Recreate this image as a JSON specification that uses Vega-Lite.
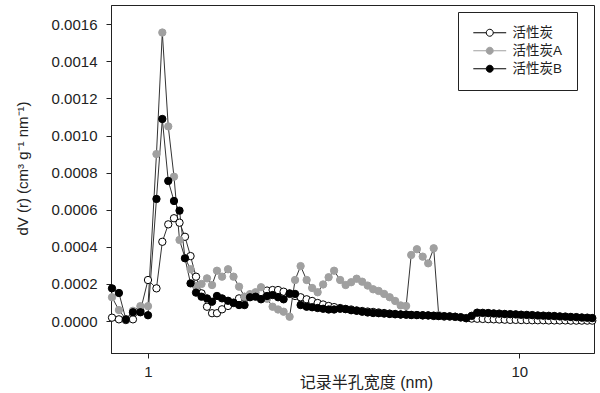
{
  "$schema": "https://vega.github.io/schema/vega-lite/v6.json",
  "width": 483,
  "height": 348,
  "autosize": {"type": "none"},
  "padding": {"left": 111, "top": 5, "right": 6, "bottom": 40},
  "background": "white",
  "config": {
    "font": "Liberation Sans, Noto Sans CJK SC",
    "view": {"stroke": "#222", "strokeWidth": 1},
    "axis": {"grid": false, "domainColor": "#222", "tickColor": "#222", "labelColor": "#222", "titleColor": "#222", "labelFontSize": 15, "titleFontWeight": "normal", "tickSize": 5, "labelFont": "Liberation Sans", "titleFont": "Liberation Sans, Noto Sans CJK SC"}
  },
  "data": {"values": [
    {"r": 0.800, "活性炭": 0.18e-4, "活性炭A": 1.28e-4, "活性炭B": 1.76e-4},
    {"r": 0.835, "活性炭": 0.09e-4, "活性炭A": 0.59e-4, "活性炭B": 1.51e-4},
    {"r": 0.872, "活性炭": 0.05e-4, "活性炭A": 0.10e-4, "活性炭B": 0.09e-4},
    {"r": 0.911, "活性炭": 0.09e-4, "活性炭A": 0.55e-4, "活性炭B": 0.47e-4},
    {"r": 0.954, "活性炭": 0.55e-4, "活性炭A": 0.80e-4, "活性炭B": 0.47e-4},
    {"r": 1.000, "活性炭": 2.21e-4, "活性炭A": 0.80e-4, "活性炭B": 0.31e-4},
    {"r": 1.054, "活性炭": 1.76e-4, "活性炭A": 9.00e-4, "活性炭B": 6.58e-4},
    {"r": 1.093, "活性炭": 4.27e-4, "活性炭A": 15.55e-4, "活性炭B": 10.89e-4},
    {"r": 1.134, "活性炭": 5.21e-4, "活性炭A": 10.49e-4, "活性炭B": 7.55e-4},
    {"r": 1.175, "活性炭": 5.54e-4, "活性炭A": 7.78e-4, "活性炭B": 6.47e-4},
    {"r": 1.216, "活性炭": 5.30e-4, "活性炭A": 4.37e-4, "活性炭B": 5.95e-4},
    {"r": 1.258, "活性炭": 4.54e-4, "活性炭A": 3.40e-4, "活性炭B": 3.38e-4},
    {"r": 1.302, "活性炭": 3.50e-4, "活性炭A": 2.79e-4, "活性炭B": 2.03e-4},
    {"r": 1.347, "活性炭": 2.39e-4, "活性炭A": 1.89e-4, "活性炭B": 1.53e-4},
    {"r": 1.394, "活性炭": 1.49e-4, "活性炭A": 2.00e-4, "活性炭B": 1.31e-4},
    {"r": 1.442, "活性炭": 0.77e-4, "活性炭A": 2.30e-4, "活性炭B": 1.22e-4},
    {"r": 1.488, "活性炭": 0.42e-4, "活性炭A": 1.94e-4, "活性炭B": 1.04e-4},
    {"r": 1.534, "活性炭": 0.42e-4, "活性炭A": 2.71e-4, "活性炭B": 1.35e-4},
    {"r": 1.583, "活性炭": 0.63e-4, "活性炭A": 2.39e-4, "活性炭B": 1.22e-4},
    {"r": 1.643, "活性炭": 0.81e-4, "活性炭A": 2.79e-4, "活性炭B": 1.09e-4},
    {"r": 1.700, "活性炭": 0.97e-4, "活性炭A": 2.39e-4, "活性炭B": 0.99e-4},
    {"r": 1.759, "活性炭": 1.22e-4, "活性炭A": 1.85e-4, "活性炭B": 0.86e-4},
    {"r": 1.820, "活性炭": 1.29e-4, "活性炭A": 1.31e-4, "活性炭B": 0.86e-4},
    {"r": 1.883, "活性炭": 1.35e-4, "活性炭A": 1.45e-4, "活性炭B": 1.28e-4},
    {"r": 1.949, "活性炭": 1.46e-4, "活性炭A": 1.55e-4, "活性炭B": 1.31e-4},
    {"r": 2.016, "活性炭": 1.56e-4, "活性炭A": 1.82e-4, "活性炭B": 1.17e-4},
    {"r": 2.093, "活性炭": 1.64e-4, "活性炭A": 1.20e-4, "活性炭B": 1.35e-4},
    {"r": 2.166, "活性炭": 1.67e-4, "活性炭A": 0.77e-4, "活性炭B": 1.40e-4},
    {"r": 2.241, "活性炭": 1.67e-4, "活性炭A": 0.62e-4, "活性炭B": 1.28e-4},
    {"r": 2.319, "活性炭": 1.58e-4, "活性炭A": 0.50e-4, "活性炭B": 1.17e-4},
    {"r": 2.407, "活性炭": 1.46e-4, "活性炭A": 0.23e-4, "活性炭B": 1.49e-4},
    {"r": 2.490, "活性炭": 1.35e-4, "活性炭A": 2.21e-4, "活性炭B": 1.46e-4},
    {"r": 2.577, "活性炭": 1.28e-4, "活性炭A": 2.96e-4, "活性炭B": 0.86e-4},
    {"r": 2.675, "活性炭": 1.17e-4, "活性炭A": 2.21e-4, "活性炭B": 0.77e-4},
    {"r": 2.768, "活性炭": 1.08e-4, "活性炭A": 1.78e-4, "活性炭B": 0.74e-4},
    {"r": 2.864, "活性炭": 0.97e-4, "活性炭A": 1.55e-4, "活性炭B": 0.70e-4},
    {"r": 2.963, "活性炭": 0.89e-4, "活性炭A": 1.97e-4, "活性炭B": 0.66e-4},
    {"r": 3.066, "活性炭": 0.81e-4, "活性炭A": 2.36e-4, "活性炭B": 0.62e-4},
    {"r": 3.172, "活性炭": 0.75e-4, "活性炭A": 2.71e-4, "活性炭B": 0.62e-4},
    {"r": 3.293, "活性炭": 0.70e-4, "活性炭A": 2.21e-4, "活性炭B": 0.66e-4},
    {"r": 3.407, "活性炭": 0.65e-4, "活性炭A": 1.94e-4, "活性炭B": 0.64e-4},
    {"r": 3.526, "活性炭": 0.62e-4, "活性炭A": 2.09e-4, "活性炭B": 0.58e-4},
    {"r": 3.648, "活性炭": 0.57e-4, "活性炭A": 2.28e-4, "活性炭B": 0.55e-4},
    {"r": 3.775, "活性炭": 0.54e-4, "活性炭A": 2.12e-4, "活性炭B": 0.50e-4},
    {"r": 3.906, "活性炭": 0.51e-4, "活性炭A": 1.91e-4, "活性炭B": 0.46e-4},
    {"r": 4.041, "活性炭": 0.49e-4, "活性炭A": 1.71e-4, "活性炭B": 0.43e-4},
    {"r": 4.181, "活性炭": 0.46e-4, "活性炭A": 1.62e-4, "活性炭B": 0.42e-4},
    {"r": 4.326, "活性炭": 0.43e-4, "活性炭A": 1.46e-4, "活性炭B": 0.40e-4},
    {"r": 4.477, "活性炭": 0.40e-4, "活性炭A": 1.28e-4, "活性炭B": 0.38e-4},
    {"r": 4.632, "活性炭": 0.38e-4, "活性炭A": 1.08e-4, "活性炭B": 0.36e-4},
    {"r": 4.793, "活性炭": 0.35e-4, "活性炭A": 0.84e-4, "活性炭B": 0.35e-4},
    {"r": 4.959, "活性炭": 0.35e-4, "活性炭A": 0.81e-4, "活性炭B": 0.34e-4},
    {"r": 5.117, "活性炭": 0.32e-4, "活性炭A": 3.56e-4, "活性炭B": 0.33e-4},
    {"r": 5.301, "活性炭": 0.32e-4, "活性炭A": 3.87e-4, "活性炭B": 0.32e-4},
    {"r": 5.495, "活性炭": 0.30e-4, "活性炭A": 3.47e-4, "活性炭B": 0.31e-4},
    {"r": 5.685, "活性炭": 0.30e-4, "活性炭A": 3.11e-4, "活性炭B": 0.30e-4},
    {"r": 5.883, "活性炭": 0.27e-4, "活性炭A": 3.92e-4, "活性炭B": 0.29e-4},
    {"r": 6.068, "活性炭": 0.27e-4, "活性炭A": 0.32e-4, "活性炭B": 0.27e-4},
    {"r": 6.279, "活性炭": 0.24e-4, "活性炭A": 0.26e-4, "活性炭B": 0.26e-4},
    {"r": 6.497, "活性炭": 0.24e-4, "活性炭A": 0.25e-4, "活性炭B": 0.25e-4},
    {"r": 6.722, "活性炭": 0.22e-4, "活性炭A": 0.23e-4, "活性炭B": 0.23e-4},
    {"r": 6.956, "活性炭": 0.19e-4, "活性炭A": 0.20e-4, "活性炭B": 0.20e-4},
    {"r": 7.197, "活性炭": 0.16e-4, "活性炭A": 0.15e-4, "活性炭B": 0.15e-4},
    {"r": 7.447, "活性炭": 0.13e-4, "活性炭A": 0.27e-4, "活性炭B": 0.28e-4},
    {"r": 7.706, "活性炭": 0.12e-4, "活性炭A": 0.44e-4, "活性炭B": 0.45e-4},
    {"r": 7.973, "活性炭": 0.11e-4, "活性炭A": 0.43e-4, "活性炭B": 0.44e-4},
    {"r": 8.250, "活性炭": 0.10e-4, "活性炭A": 0.42e-4, "活性炭B": 0.43e-4},
    {"r": 8.536, "活性炭": 0.09e-4, "活性炭A": 0.40e-4, "活性炭B": 0.41e-4},
    {"r": 8.832, "活性炭": 0.08e-4, "活性炭A": 0.39e-4, "活性炭B": 0.40e-4},
    {"r": 9.139, "活性炭": 0.07e-4, "活性炭A": 0.37e-4, "活性炭B": 0.38e-4},
    {"r": 9.456, "活性炭": 0.06e-4, "活性炭A": 0.36e-4, "活性炭B": 0.37e-4},
    {"r": 9.785, "活性炭": 0.06e-4, "活性炭A": 0.35e-4, "活性炭B": 0.36e-4},
    {"r": 10.12, "活性炭": 0.05e-4, "活性炭A": 0.33e-4, "活性炭B": 0.34e-4},
    {"r": 10.48, "活性炭": 0.05e-4, "活性炭A": 0.32e-4, "活性炭B": 0.33e-4},
    {"r": 10.84, "活性炭": 0.04e-4, "活性炭A": 0.31e-4, "活性炭B": 0.32e-4},
    {"r": 11.22, "活性炭": 0.04e-4, "活性炭A": 0.29e-4, "活性炭B": 0.30e-4},
    {"r": 11.61, "活性炭": 0.04e-4, "活性炭A": 0.28e-4, "活性炭B": 0.29e-4},
    {"r": 12.01, "活性炭": 0.03e-4, "活性炭A": 0.27e-4, "活性炭B": 0.28e-4},
    {"r": 12.43, "活性炭": 0.03e-4, "活性炭A": 0.26e-4, "活性炭B": 0.27e-4},
    {"r": 12.86, "活性炭": 0.03e-4, "活性炭A": 0.24e-4, "活性炭B": 0.25e-4},
    {"r": 13.31, "活性炭": 0.03e-4, "活性炭A": 0.23e-4, "活性炭B": 0.24e-4},
    {"r": 13.77, "活性炭": 0.02e-4, "活性炭A": 0.21e-4, "活性炭B": 0.22e-4},
    {"r": 14.25, "活性炭": 0.02e-4, "活性炭A": 0.20e-4, "活性炭B": 0.21e-4},
    {"r": 14.74, "活性炭": 0.02e-4, "活性炭A": 0.18e-4, "活性炭B": 0.19e-4},
    {"r": 15.25, "活性炭": 0.02e-4, "活性炭A": 0.17e-4, "活性炭B": 0.18e-4},
    {"r": 15.73, "活性炭": 0.02e-4, "活性炭A": 0.15e-4, "活性炭B": 0.16e-4}
  ]},
  "transform": [{"fold": ["活性炭", "活性炭A", "活性炭B"], "as": ["s", "v"]}],
  "encoding": {
    "x": {
      "field": "r", "type": "quantitative",
      "scale": {"type": "log", "domain": [0.795, 15.9], "nice": false},
      "axis": {"values": [1, 10], "format": "d", "title": "记录半孔宽度 (nm)", "titleFontSize": 16, "titleX": 255, "titleY": 29, "titleBaseline": "middle", "titleAlign": "center", "labelPadding": 6, "labelFlush": false}
    },
    "y": {
      "field": "v", "type": "quantitative",
      "scale": {"domain": [-0.0001725, 0.0017035], "nice": false, "zero": false},
      "axis": {"values": [0, 0.0002, 0.0004, 0.0006, 0.0008, 0.001, 0.0012, 0.0014, 0.0016], "format": ".4f", "title": "dV (r) (cm³ g⁻¹ nm⁻¹)", "titleFontSize": 15, "titleAngle": -90, "titleX": -89, "titleY": 163, "titleAlign": "center", "titleBaseline": "middle", "labelPadding": 9}
    }
  },
  "layer": [
    {"mark": {"type": "line", "color": "#333", "strokeWidth": 1}, "encoding": {"detail": {"field": "s"}}},
    {
      "mark": {"type": "point", "shape": "circle", "filled": true, "size": 54, "strokeWidth": 1, "opacity": 1},
      "encoding": {
        "fill": {"field": "s", "type": "nominal", "scale": {"domain": ["活性炭", "活性炭A", "活性炭B"], "range": ["white", "#a0a0a0", "black"]},
          "legend": {"title": null, "orient": "none", "legendX": 347, "legendY": 7, "strokeColor": "#222", "fillColor": "white", "padding": 14, "symbolType": "M-4.7,0L-1,0M1,0L4.7,0M1,0A1,1,0,1,1,-1,0A1,1,0,1,1,1,0Z", "symbolSize": 49, "symbolStrokeWidth": 1, "symbolOffset": 11, "labelOffset": 16, "labelFontSize": 13.5, "rowPadding": 3, "labelFont": "Liberation Sans, Noto Sans CJK SC", "labelColor": "#222"}},
        "stroke": {"field": "s", "type": "nominal", "scale": {"domain": ["活性炭", "活性炭A", "活性炭B"], "range": ["black", "#a0a0a0", "black"]},
          "legend": {"title": null, "orient": "none", "legendX": 347, "legendY": 7, "strokeColor": "#222", "fillColor": "white", "padding": 14, "symbolType": "M-4.7,0L-1,0M1,0L4.7,0M1,0A1,1,0,1,1,-1,0A1,1,0,1,1,1,0Z", "symbolSize": 49, "symbolStrokeWidth": 1, "symbolOffset": 11, "labelOffset": 16, "labelFontSize": 13.5, "rowPadding": 3, "labelFont": "Liberation Sans, Noto Sans CJK SC", "labelColor": "#222"}},
        "order": {"field": "s"}
      }
    }
  ]
}
